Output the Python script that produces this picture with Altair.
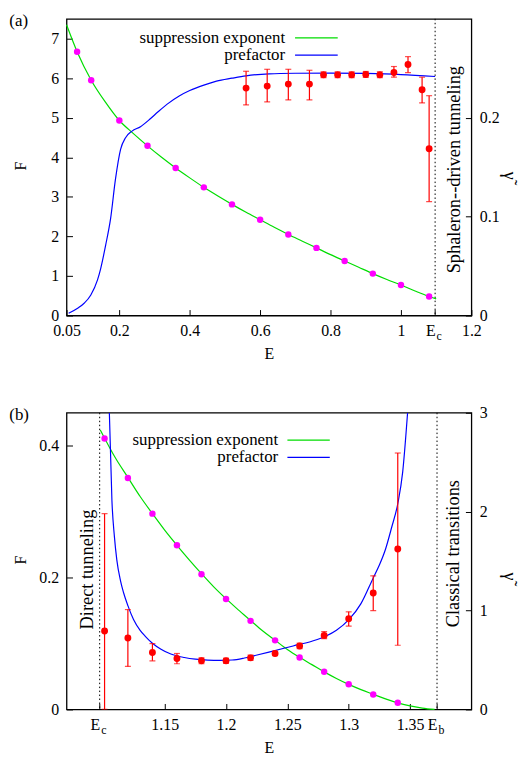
import altair as alt
import pandas as pd

FONT = "Times New Roman, Liberation Serif, DejaVu Serif, serif"
GREEN = "#00dd00"
BLUE = "#0000ff"
RED = "#ff0000"
MAGENTA = "#ff00ff"

E_C = 1.097
E_B = 1.372

# ---------------- panel (a) ----------------
a_dots_E = [0.08, 0.12, 0.2, 0.28, 0.36, 0.44, 0.52, 0.6, 0.68, 0.76, 0.84, 0.92, 1.0, 1.08]
a_dots_F = [6.67, 5.95, 4.93, 4.29, 3.73, 3.24, 2.81, 2.42, 2.05, 1.71, 1.38, 1.06, 0.77, 0.48]

a_sup_E = [0.05, 0.08, 0.12, 0.16, 0.2, 0.24, 0.28, 0.32, 0.36, 0.4, 0.44, 0.48, 0.52, 0.56,
           0.6, 0.64, 0.68, 0.72, 0.76, 0.8, 0.84, 0.88, 0.92, 0.96, 1.0, 1.04, 1.08, 1.1]
a_sup_F = [7.35, 6.67, 5.95, 5.40, 4.93, 4.60, 4.29, 4.00, 3.73, 3.48, 3.24, 3.02, 2.81, 2.61,
           2.42, 2.23, 2.05, 1.88, 1.71, 1.54, 1.38, 1.22, 1.06, 0.91, 0.77, 0.62, 0.48, 0.42]

a_pre_E = [0.056, 0.0815, 0.1, 0.119, 0.138, 0.147, 0.161, 0.175, 0.189, 0.2035, 0.2176,
           0.236, 0.26, 0.288, 0.31, 0.335, 0.37, 0.40, 0.44, 0.476, 0.52, 0.56, 0.626,
           0.7, 0.8, 0.9, 1.0, 1.097]
a_pre_g = [0.0023, 0.0074, 0.0124, 0.0208, 0.036, 0.0475, 0.071, 0.0977, 0.1379, 0.168, 0.1798,
           0.1865, 0.191, 0.199, 0.206, 0.2135, 0.222, 0.2275, 0.233, 0.237, 0.240,
           0.2424, 0.2444, 0.245, 0.2452, 0.2448, 0.2437, 0.2417]

a_pts_E = [0.56, 0.62, 0.68, 0.74, 0.78, 0.82, 0.86, 0.90, 0.94, 0.98, 1.02, 1.06, 1.08]
a_pts_g = [0.230, 0.232, 0.234, 0.234, 0.2434, 0.2434, 0.2434, 0.2437, 0.2434, 0.2457, 0.2538, 0.2283, 0.1687]
a_pts_lo = [0.213, 0.216, 0.218, 0.218, 0.2405, 0.2405, 0.2405, 0.2408, 0.2405, 0.241, 0.2457, 0.215, 0.1152]
a_pts_hi = [0.247, 0.249, 0.249, 0.248, 0.2465, 0.2465, 0.2465, 0.2468, 0.2465, 0.2518, 0.2618, 0.241, 0.2223]

a_xticks = [0.05, 0.2, 0.4, 0.6, 0.8, 1.0, E_C, 1.2]
a_xlabels = ["0.05", "0.2", "0.4", "0.6", "0.8", "1", "E", "1.2"]
a_yticks = [0, 1, 2, 3, 4, 5, 6, 7]
a_ylabels = ["0", "1", "2", "3", "4", "5", "6", "7"]
a_y2ticks = [0, 0.1, 0.2]
a_y2labels = ["0", "0.1", "0.2"]

# ---------------- panel (b) ----------------
b_dots_E = [1.101, 1.12, 1.14, 1.16, 1.18, 1.20, 1.22, 1.24, 1.26, 1.28, 1.30, 1.32, 1.34]
b_dots_F = [0.411, 0.351, 0.297, 0.249, 0.205, 0.1675, 0.1344, 0.1048, 0.0788, 0.0571, 0.0382, 0.0226, 0.0101]

b_sup_E = [1.0975, 1.11, 1.12, 1.13, 1.14, 1.15, 1.16, 1.17, 1.18, 1.19, 1.20, 1.21, 1.22, 1.23,
           1.24, 1.25, 1.26, 1.27, 1.28, 1.29, 1.30, 1.31, 1.32, 1.33, 1.34, 1.35, 1.36, 1.37]
b_sup_F = [0.424, 0.381, 0.352, 0.323, 0.297, 0.272, 0.249, 0.227, 0.206, 0.186, 0.168, 0.151,
           0.135, 0.119, 0.105, 0.091, 0.079, 0.068, 0.057, 0.047, 0.038, 0.030, 0.023, 0.016,
           0.010, 0.0055, 0.002, 0.0]

b_pre_E = [1.1049, 1.107, 1.109, 1.111, 1.114, 1.1165, 1.12, 1.1246, 1.13, 1.134, 1.14, 1.147,
           1.155, 1.166, 1.175, 1.185, 1.195, 1.205, 1.215, 1.2225, 1.235, 1.2547, 1.27, 1.2816,
           1.29, 1.3003, 1.31, 1.32, 1.325, 1.33, 1.335, 1.34, 1.344, 1.348]
b_pre_g = [3.0, 2.11, 1.75, 1.51, 1.30, 1.18, 1.05, 0.91, 0.80, 0.742, 0.67, 0.609,
           0.56, 0.525, 0.508, 0.499, 0.497, 0.50, 0.52, 0.542, 0.58, 0.642, 0.69, 0.742,
           0.80, 0.91, 1.07, 1.33, 1.46, 1.62, 1.84, 2.08, 2.40, 3.0]

b_pts_E = [1.101, 1.12, 1.14, 1.16, 1.18, 1.20, 1.22, 1.24, 1.26, 1.28, 1.30, 1.32, 1.34]
b_pts_g = [0.793, 0.722, 0.576, 0.515, 0.492, 0.492, 0.522, 0.566, 0.642, 0.749, 0.917, 1.178, 1.622]
b_pts_lo = [0.0, 0.435, 0.492, 0.462, 0.462, 0.466, 0.495, 0.545, 0.615, 0.716, 0.843, 1.0, 0.649]
b_pts_hi = [1.98, 1.01, 0.666, 0.566, 0.522, 0.518, 0.55, 0.587, 0.67, 0.787, 0.987, 1.351, 2.593]

b_xticks = [E_C, 1.15, 1.2, 1.25, 1.3, 1.35, E_B]
b_xlabels = ["E", "1.15", "1.2", "1.25", "1.3", "1.35", "E"]
b_yticks = [0, 0.2, 0.4]
b_ylabels = ["0", "0.2", "0.4"]
b_y2ticks = [0, 1, 2, 3]
b_y2labels = ["0", "1", "2", "3"]

legend_labels = ["suppression exponent", "prefactor"]
gamma_title = "γ\u0303"

W = 408
H = 299
TICK = 6


def label_expr(values, labels):
    expr = "''"
    for v, l in reversed(list(zip(values, labels))):
        expr = f"abs(datum.value - {v}) < 1e-9 ? '{l}' : ({expr})"
    return expr


EDGE_TEST = f"abs(datum.value - {E_C}) < 1e-9 || abs(datum.value - {E_B}) < 1e-9"


def common_axis(**kw):
    base = dict(tickSize=TICK, offset=-TICK, domain=False, grid=False,
                labelFont=FONT, labelFontSize=16, labelColor="black",
                tickColor="black", tickWidth=1, labelOverlap=False,
                labelFlush=False, titleFont=FONT, titleFontSize=16,
                titleFontWeight="normal", titleColor="black",
                titleBaseline="middle", titleAlign="center")
    base.update(kw)
    return alt.Axis(**base)


one = pd.DataFrame({"k": [0]})


def panel(tag, xdom, ydom, y2dom, xticks, xlabels, yticks, ylabels, y2ticks, y2labels,
          sup_E, sup_F, dots_E, dots_F, pre_E, pre_g, pts_E, pts_g, pts_lo, pts_hi,
          vlines, annotations, subs, leg_y, leg_text_x, leg_line_x, gamma_y):
    xs = alt.Scale(domain=xdom, nice=False, zero=False)
    ys = alt.Scale(domain=ydom, nice=False, zero=False)
    y2s = alt.Scale(domain=y2dom, nice=False, zero=False)

    xaxis = common_axis(values=xticks, labelExpr=label_expr(xticks, xlabels),
                        labelAlign={"condition": {"test": EDGE_TEST, "value": "right"}, "value": "center"},
                        labelPadding=7, title="E", titleX=W / 2, titleY=38 + TICK)
    yaxis = common_axis(values=yticks, labelExpr=label_expr(yticks, ylabels),
                        orient="left", labelPadding=8, title="F", titleAngle=270,
                        titleX=-46 - TICK, titleY=148)
    y2axis = common_axis(values=y2ticks, labelExpr=label_expr(y2ticks, y2labels),
                         orient="right", labelPadding=8, title="")

    sup = pd.DataFrame({"E": sup_E, "F": sup_F})
    dots = pd.DataFrame({"E": dots_E, "F": dots_F})
    pre = pd.DataFrame({"E": pre_E, "g": pre_g})
    pts = pd.DataFrame({"E": pts_E, "g": pts_g, "lo": pts_lo, "hi": pts_hi})
    vl = pd.DataFrame({"E": vlines})

    sup_line = alt.Chart(sup).mark_line(color=GREEN, strokeWidth=1.2, interpolate="monotone").encode(
        x=alt.X("E:Q", scale=xs, axis=xaxis),
        y=alt.Y("F:Q", scale=ys, axis=yaxis),
    )
    dot_pts = alt.Chart(dots).mark_circle(color=MAGENTA, size=42, opacity=1).encode(
        x=alt.X("E:Q", scale=xs), y=alt.Y("F:Q", scale=ys)
    )
    vrule = alt.Chart(vl).mark_rule(color="black", strokeWidth=1, strokeDash=[1.5, 2.5]).encode(
        x=alt.X("E:Q", scale=xs)
    )
    left_layers = [vrule, sup_line, dot_pts]

    for txt, ex, py in annotations:
        left_layers.append(
            alt.Chart(pd.DataFrame({"E": [ex], "t": [txt]})).mark_text(
                font=FONT, fontSize=18.5, angle=270, align="center", baseline="middle", color="black"
            ).encode(x=alt.X("E:Q", scale=xs), y=alt.value(py), text="t:N")
        )
    for ex in subs:
        left_layers.append(
            alt.Chart(pd.DataFrame({"E": [ex], "t": ["c" if ex == E_C else "b"]})).mark_text(
                font=FONT, fontSize=12, align="left", baseline="middle", color="black", dx=1.5
            ).encode(x=alt.X("E:Q", scale=xs), y=alt.value(H + 21), text="t:N")
        )
    # right axis title
    left_layers.append(
        alt.Chart(pd.DataFrame({"t": [gamma_title]})).mark_text(
            font=FONT, fontSize=18, angle=90, align="center", baseline="middle", color="black"
        ).encode(x=alt.value(W + 37.5), y=alt.value(gamma_y), text="t:N")
    )
    # panel tag
    left_layers.append(
        alt.Chart(pd.DataFrame({"t": [tag]})).mark_text(
            font=FONT, fontSize=17, align="left", baseline="middle", color="black"
        ).encode(x=alt.value(-57.7), y=alt.value(2), text="t:N")
    )
    # legend
    for i, (lab, col) in enumerate(zip(legend_labels, [GREEN, BLUE])):
        left_layers.append(
            alt.Chart(pd.DataFrame({"t": [lab]})).mark_text(
                font=FONT, fontSize=17, align="right", baseline="middle", color="black"
            ).encode(x=alt.value(leg_text_x), y=alt.value(leg_y[i]), text="t:N")
        )
        left_layers.append(
            alt.Chart(one).mark_rule(color=col, strokeWidth=1.2).encode(
                x=alt.value(leg_line_x[0]), x2=alt.value(leg_line_x[1]), y=alt.value(leg_y[i])
            )
        )

    pre_line = alt.Chart(pre).mark_line(color=BLUE, strokeWidth=1.2, interpolate="monotone", clip=True).encode(
        x=alt.X("E:Q", scale=xs),
        y=alt.Y("g:Q", scale=y2s, axis=y2axis),
    )
    err = alt.Chart(pts).mark_rule(color=RED, strokeWidth=1.2, clip=True).encode(
        x=alt.X("E:Q", scale=xs), y=alt.Y("lo:Q", scale=y2s), y2="hi:Q"
    )
    cap_lo = alt.Chart(pts).mark_tick(color=RED, orient="horizontal", size=6, thickness=1.2, clip=True).encode(
        x=alt.X("E:Q", scale=xs), y=alt.Y("lo:Q", scale=y2s)
    )
    cap_hi = alt.Chart(pts).mark_tick(color=RED, orient="horizontal", size=6, thickness=1.2).encode(
        x=alt.X("E:Q", scale=xs), y=alt.Y("hi:Q", scale=y2s)
    )
    red_pts = alt.Chart(pts).mark_circle(color=RED, size=48, opacity=1).encode(
        x=alt.X("E:Q", scale=xs), y=alt.Y("g:Q", scale=y2s)
    )
    right = alt.layer(pre_line, err, cap_lo, cap_hi, red_pts)
    left = alt.layer(*left_layers)
    return alt.layer(left, right).resolve_scale(y="independent").properties(width=W, height=H)


top = panel("(a)", [0.05, 1.2], [0, 7.5], [0, 0.3], a_xticks, a_xlabels, a_yticks, a_ylabels,
            a_y2ticks, a_y2labels, a_sup_E, a_sup_F, a_dots_E, a_dots_F, a_pre_E, a_pre_g,
            a_pts_E, a_pts_g, a_pts_lo, a_pts_hi, [E_C],
            [("Sphaleron--driven tunneling", 1.151, 152)], [E_C],
            [19.2, 36.6], 220.3, (230.3, 273.3), 158)

bottom = panel("(b)", [1.07, 1.40], [0, 0.45], [0, 3], b_xticks, b_xlabels, b_yticks, b_ylabels,
               b_y2ticks, b_y2labels, b_sup_E, b_sup_F, b_dots_E, b_dots_F, b_pre_E, b_pre_g,
               b_pts_E, b_pts_g, b_pts_lo, b_pts_hi, [E_C, E_B],
               [("Direct tunneling", 1.0866, 158), ("Classical transitions", 1.3849, 142)],
               [E_C, E_B], [27.6, 45.0], 213.3, (222.6, 265.3), 165)

chart = alt.vconcat(top, bottom, spacing=42).properties(
    padding=0, background="white"
).configure_view(stroke="black", strokeWidth=1.3)

chart.save("out.html", embed_options={"renderer": "svg", "actions": False})
